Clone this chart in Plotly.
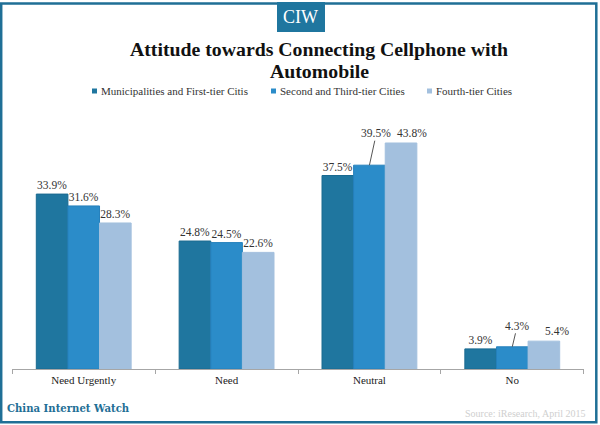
import plotly.graph_objects as go

categories = ["Need Urgently", "Need", "Neutral", "No"]
series_names = ["Municipalities and First-tier Citis", "Second and Third-tier Cities", "Fourth-tier Cities"]
first_tier = [33.9, 24.8, 37.5, 3.9]
second_tier = [31.6, 24.5, 39.5, 4.3]
fourth_tier = [28.3, 22.6, 43.8, 5.4]
colors = ["#1F769F", "#2B8CC9", "#A3C0DE"]
edges = ["#1A6A90", "#2581BC", "#A3C0DE"]
legend_swatch_x = [92, 271, 427]
FONT = "Liberation Serif"
W, H = 600, 425


def px(x):
    return x / W


def py(y):
    return 1 - y / H


fig = go.Figure()
hidden = {(1, 2), (1, 3), (2, 2), (2, 3)}
for s, (name, vals, c, e) in enumerate(zip(series_names, [first_tier, second_tier, fourth_tier], colors, edges)):
    labels = ["" if (s, i) in hidden else f"{v:.1f}%" for i, v in enumerate(vals)]
    fig.add_bar(x=categories, y=vals, name=name, marker=dict(color=c, line=dict(color=e, width=1)),
                text=labels, textposition="outside", cliponaxis=False,
                textfont=dict(family=FONT, size=11.5, color="#333333"))

label_font = dict(family=FONT, size=11.5, color="#333333")
annotations = [
    dict(text="CIW", xref="paper", yref="paper", x=px(300), y=py(17), yanchor="middle", showarrow=False,
         font=dict(family=FONT, size=18, color="white")),
    dict(text="<b>Automobile</b>", xref="paper", yref="paper", x=px(319.5), y=py(71), yanchor="middle",
         showarrow=False, font=dict(family=FONT, size=19.8, color="#111111")),
    dict(text="<b>China Internet Watch</b>", xref="paper", yref="paper", x=px(5), xanchor="left", y=py(408),
         yanchor="middle", showarrow=False, font=dict(family="DejaVu Serif", size=10.1, color="#1F6F96")),
    dict(text="Source: iResearch, April 2015", xref="paper", yref="paper", x=px(588), xanchor="right", y=py(413),
         yanchor="middle", showarrow=False, font=dict(family=FONT, size=10, color="#CFCFCF")),
    dict(text=f"{second_tier[2]:.1f}%", x=categories[2], y=second_tier[2], xref="x", yref="y", showarrow=True,
         arrowhead=0, arrowwidth=1, arrowcolor="#555555", ax=7, ay=-32, standoff=0, font=label_font),
    dict(text=f"{fourth_tier[2]:.1f}%", x=categories[2], y=fourth_tier[2], xref="x", yref="y", showarrow=False,
         xshift=43, yshift=10, font=label_font),
    dict(text=f"{second_tier[3]:.1f}%", x=categories[3], y=second_tier[3], xref="x", yref="y", showarrow=True,
         arrowhead=0, arrowwidth=1, arrowcolor="#555555", ax=5, ay=-21, standoff=0, font=label_font),
    dict(text=f"{fourth_tier[3]:.1f}%", x=categories[3], y=fourth_tier[3], xref="x", yref="y", showarrow=False,
         xshift=45, yshift=10, font=label_font),
]
shapes = [
    dict(type="rect", xref="paper", yref="paper", x0=px(1.2), x1=px(596.3), y0=py(422.2), y1=py(3.5),
         line=dict(color="#1F6F96", width=2.5), fillcolor="rgba(0,0,0,0)"),
    dict(type="rect", xref="paper", yref="paper", x0=px(277), x1=px(325), y0=py(32), y1=py(2),
         line=dict(width=0), fillcolor="#1F769F"),
]
for name, c, sx in zip(series_names, colors, legend_swatch_x):
    shapes.append(dict(type="rect", xref="paper", yref="paper", x0=px(sx), x1=px(sx + 5), y0=py(93.5), y1=py(88.5),
                       line=dict(width=0), fillcolor=c))
    annotations.append(dict(text=name, xref="paper", yref="paper", x=px(sx + 7), xanchor="left", y=py(91),
                            yanchor="middle", showarrow=False, font=dict(family=FONT, size=11, color="#333333")))

fig.update_layout(
    width=W, height=H, margin=dict(l=0, r=0, t=0, b=0), autosize=False,
    paper_bgcolor="white", plot_bgcolor="white", barmode="group", bargap=0.336, bargroupgap=0,
    font=dict(family=FONT, size=11, color="#333333"),
    showlegend=False,
    xaxis=dict(domain=[px(12.3), px(583.7)], showline=True, linecolor="#A6A6A6", linewidth=1,
               ticks="outside", ticklen=4, tickcolor="#A6A6A6", tickson="boundaries", ticklabelstandoff=1,
               tickfont=dict(family=FONT, size=11, color="#222222"), showgrid=False, zeroline=False),
    yaxis=dict(domain=[py(369), py(100)], range=[0, 269 / 5.16], visible=False, showgrid=False, zeroline=False),
    title=dict(text="<b>Attitude towards Connecting Cellphone with</b>", x=px(319), xanchor="center",
               y=py(49), yanchor="middle", font=dict(family=FONT, size=19.8, color="#111111")),
    shapes=shapes,
    annotations=annotations,
)
fig.write_html("out.html", post_script="document.body.style.margin='0';", config={"displayModeBar": False})
